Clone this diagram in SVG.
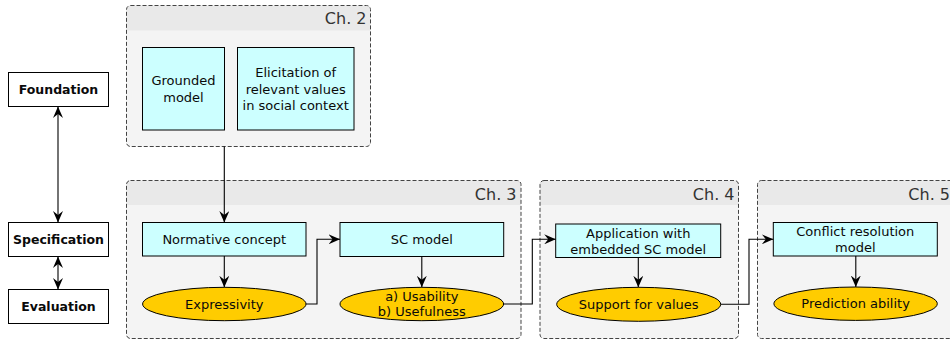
<svg xmlns="http://www.w3.org/2000/svg" width="950" height="342" viewBox="0 0 950 342">
<style>
text{font-family:"DejaVu Sans","Liberation Sans",sans-serif;font-size:13px;fill:#0a0a0a;text-anchor:middle}
.lvl rect{fill:#fff;stroke:#000;stroke-width:1}
.lvl text{font-weight:bold;font-size:12.5px}
.body{fill:#f4f4f4;stroke:none}
.head{fill:#e9e9e9;stroke:none}
.frame{fill:none;stroke:#444;stroke-width:1;stroke-dasharray:4,2}
.ch{font-size:16px;fill:#333;text-anchor:end}
.box{fill:#ccffff;stroke:#000;stroke-width:1}
.ell{fill:#ffcc00;stroke:#000;stroke-width:1}
.conn path{fill:none;stroke:#000;stroke-width:1.1}
</style>
<defs>
<marker id="ah" markerUnits="userSpaceOnUse" markerWidth="12" markerHeight="10" refX="11.5" refY="5" orient="auto-start-reverse" viewBox="0 0 12 10">
<path d="M0,0 L11.5,5 L0,10 L4,5 z" fill="#000"/>
</marker>
</defs>

<g id="foundation" class="lvl"><rect x="8.5" y="72.5" width="100" height="34"/><text x="58.5" y="94">Foundation</text></g>
<g id="specification" class="lvl"><rect x="8.5" y="222.5" width="100" height="34"/><text x="58.5" y="244">Specification</text></g>
<g id="evaluation" class="lvl"><rect x="8.5" y="289.5" width="100" height="34"/><text x="58.5" y="311">Evaluation</text></g>

<g id="ch2">
<rect class="body" x="126.5" y="5.5" width="244" height="141" rx="4"/>
<path class="head" d="M126.5,30.5 V9.5 a4,4 0 0 1 4,-4 H366.5 a4,4 0 0 1 4,4 V30.5 z"/>
<rect class="frame" x="126.5" y="5.5" width="244" height="141" rx="4"/>
<text class="ch" x="366.5" y="24">Ch. 2</text>
</g>
<g id="ch3">
<rect class="body" x="126.5" y="180.5" width="394.5" height="158" rx="4"/>
<path class="head" d="M126.5,205 V184.5 a4,4 0 0 1 4,-4 H517 a4,4 0 0 1 4,4 V205 z"/>
<rect class="frame" x="126.5" y="180.5" width="394.5" height="158" rx="4"/>
<text class="ch" x="516.5" y="199.5">Ch. 3</text>
</g>
<g id="ch4">
<rect class="body" x="540" y="180.5" width="198.5" height="158" rx="4"/>
<path class="head" d="M540,205 V184.5 a4,4 0 0 1 4,-4 H734.5 a4,4 0 0 1 4,4 V205 z"/>
<rect class="frame" x="540" y="180.5" width="198.5" height="158" rx="4"/>
<text class="ch" x="734.5" y="199.5">Ch. 4</text>
</g>
<g id="ch5">
<rect class="body" x="757.5" y="180.5" width="210" height="158" rx="4"/>
<path class="head" d="M757.5,205 V184.5 a4,4 0 0 1 4,-4 H963.5 a4,4 0 0 1 4,4 V205 z"/>
<rect class="frame" x="757.5" y="180.5" width="210" height="158" rx="4"/>
<text class="ch" x="950" y="199.5">Ch. 5</text>
</g>

<g id="grounded"><rect class="box" x="142.5" y="47.5" width="82" height="82.5"/><text x="183.5" y="85">Grounded</text><text x="183.5" y="101.5">model</text></g>
<g id="elicitation"><rect class="box" x="237.5" y="47.5" width="116.5" height="82.5"/><text x="295.7" y="77">Elicitation of</text><text x="295.7" y="93.5">relevant values</text><text x="295.7" y="110">in social context</text></g>

<g id="normative"><rect class="box" x="142.5" y="222.5" width="163.5" height="33.5"/><text x="224.3" y="244">Normative concept</text></g>
<g id="expressivity"><ellipse class="ell" cx="224.3" cy="304" rx="81.7" ry="16.7"/><text x="224.3" y="308.5">Expressivity</text></g>
<g id="scmodel"><rect class="box" x="340" y="222.5" width="163.7" height="34"/><text x="421.8" y="244">SC model</text></g>
<g id="usability"><ellipse class="ell" cx="421.8" cy="304" rx="81.8" ry="16.7"/><text x="421.8" y="301">a) Usability</text><text x="421.8" y="316">b) Usefulness</text></g>
<g id="application"><rect class="box" x="555.7" y="224" width="165" height="33.5"/><text x="638.2" y="238">Application with</text><text x="638.2" y="254">embedded SC model</text></g>
<g id="support"><ellipse class="ell" cx="638.7" cy="304.3" rx="82" ry="17"/><text x="638.7" y="308.8">Support for values</text></g>
<g id="conflict"><rect class="box" x="773.3" y="222.5" width="164" height="33.5"/><text x="855.3" y="236">Conflict resolution</text><text x="855.3" y="252">model</text></g>
<g id="prediction"><ellipse class="ell" cx="855.6" cy="303.7" rx="81.7" ry="16.7"/><text x="855.6" y="308.2">Prediction ability</text></g>

<g id="connectors" class="conn">
<path d="M58,106.5 V222.5" marker-start="url(#ah)" marker-end="url(#ah)"/>
<path d="M58,256.5 V289.5" marker-start="url(#ah)" marker-end="url(#ah)"/>
<path d="M224.3,146.5 V222.5" marker-end="url(#ah)"/>
<path d="M224.3,256 V287.3" marker-end="url(#ah)"/>
<path d="M306,304 H317 V239.3 H340" marker-end="url(#ah)"/>
<path d="M421.8,256.5 V287.3" marker-end="url(#ah)"/>
<path d="M503.6,304 H532.3 V239.3 H555.7" marker-end="url(#ah)"/>
<path d="M638.3,257.5 V287.3" marker-end="url(#ah)"/>
<path d="M720.7,304.3 H749 V239.3 H773.3" marker-end="url(#ah)"/>
<path d="M855.8,256 V287" marker-end="url(#ah)"/>
</g>
</svg>
